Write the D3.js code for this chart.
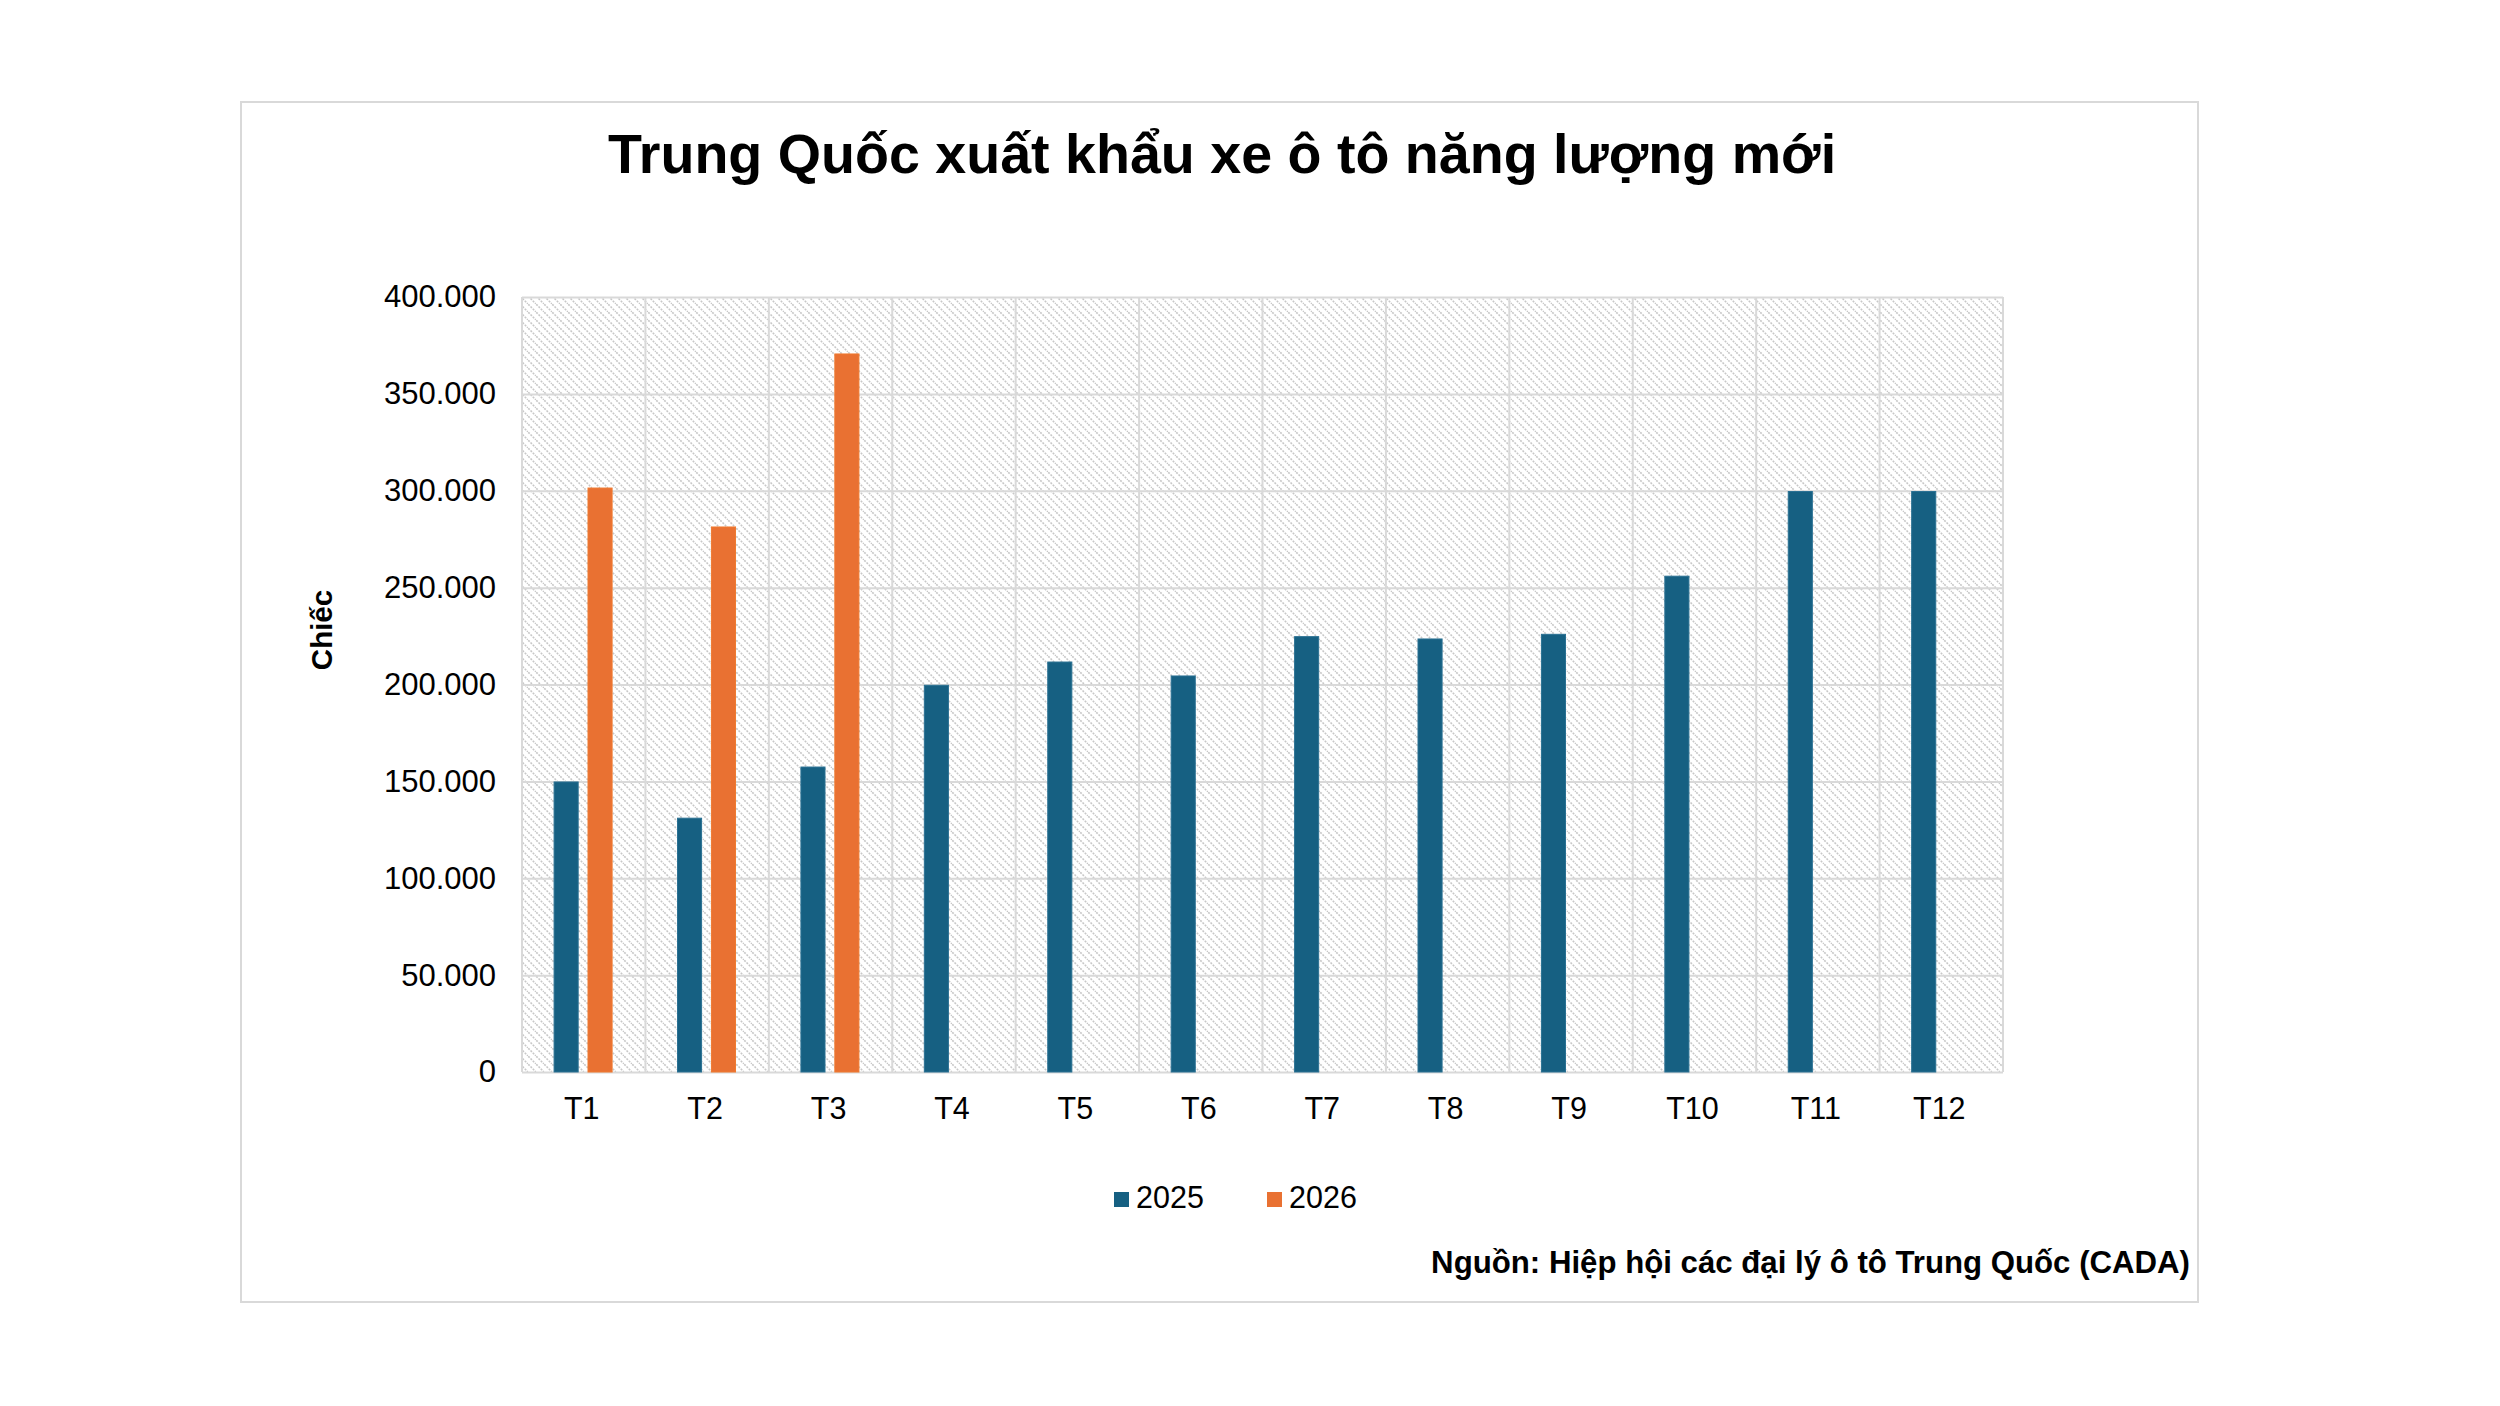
<!DOCTYPE html>
<html lang="vi">
<head>
<meta charset="utf-8">
<title>Trung Quốc xuất khẩu xe ô tô năng lượng mới</title>
<script src="https://cdn.jsdelivr.net/npm/d3@7"></script>
<style>
  html, body { margin: 0; padding: 0; background: #ffffff; }
  svg { display: block; font-family: "Liberation Sans", Arial, sans-serif; }
</style>
</head>
<body>
<div id="chart"></div>
<script>
// data
const months = ["T1", "T2", "T3", "T4", "T5", "T6", "T7", "T8", "T9", "T10", "T11", "T12"];
const seriesNames = ["2025", "2026"];
const values2025 = [149700, 131000, 157400, 199600, 211600, 204400, 224700, 223500, 225900, 255900, 299600, 299600];
const values2026 = [301400, 281300, 370600];
const yTicks = [0, 50000, 100000, 150000, 200000, 250000, 300000, 350000, 400000];
const colors = { "2025": "#166082", "2026": "#e97132" };

const W = 2500, H = 1406;
const plot = { left: 522, right: 2003, top: 297, bottom: 1072 };

const vn = d3.formatLocale({ decimal: ",", thousands: ".", grouping: [3], currency: ["", ""] });
const fmt = vn.format(",");

const svg = d3.select("#chart").append("svg")
    .attr("width", W)
    .attr("height", H);

// hatch pattern for plot background
const defs = svg.append("defs");
const pat = defs.append("pattern")
    .attr("id", "hatch")
    .attr("patternUnits", "userSpaceOnUse")
    .attr("width", 8)
    .attr("height", 8);
pat.append("rect").attr("width", 8).attr("height", 8).attr("fill", "#ffffff");
pat.append("path")
    .attr("d", "M-2,-2 L10,10 M-2,6 L2,10 M6,-2 L10,2")
    .attr("stroke", "#c8c8c8")
    .attr("stroke-width", 1.6)
    .attr("stroke-dasharray", "2,1.2");

// outer frame
svg.append("rect")
    .attr("x", 241).attr("y", 102)
    .attr("width", 2198 - 241).attr("height", 1302 - 102)
    .attr("fill", "none")
    .attr("stroke", "#d9d9d9")
    .attr("stroke-width", 2);

// title
svg.append("text")
    .attr("x", 1222)
    .attr("y", 173)
    .attr("text-anchor", "middle")
    .attr("font-weight", "bold")
    .attr("font-size", 55.6)
    .attr("fill", "#000")
    .text("Trung Quốc xuất khẩu xe ô tô năng lượng mới");

const x0 = d3.scaleBand()
    .domain(months)
    .range([plot.left, plot.right])
    .paddingInner(0)
    .paddingOuter(0);

const x1 = d3.scaleBand()
    .domain(seriesNames)
    .range([x0.bandwidth() * 0.26, x0.bandwidth() * 0.73])
    .paddingInner(0.29);

const y = d3.scaleLinear()
    .domain([0, 400000])
    .range([plot.bottom, plot.top]);

// plot background
svg.append("rect")
    .attr("x", plot.left).attr("y", plot.top)
    .attr("width", plot.right - plot.left)
    .attr("height", plot.bottom - plot.top)
    .attr("fill", "url(#hatch)");

// horizontal gridlines
svg.append("g")
    .attr("transform", `translate(${plot.left},0)`)
    .call(d3.axisLeft(y).tickValues(yTicks).tickSize(-(plot.right - plot.left)).tickFormat(""))
    .call(g => g.select(".domain").remove())
    .call(g => g.selectAll(".tick line").attr("stroke", "#d9d9d9").attr("stroke-width", 2));

// vertical gridlines at category boundaries
const bounds = months.map(m => x0(m)).concat([plot.right]);
svg.append("g")
    .selectAll("line")
    .data(bounds)
    .join("line")
    .attr("x1", d => d).attr("x2", d => d)
    .attr("y1", plot.top).attr("y2", plot.bottom)
    .attr("stroke", "#d9d9d9")
    .attr("stroke-width", 2);

// bars
const rows = months.map((m, i) => ({
    month: m,
    vals: [
        { key: "2025", v: values2025[i] },
        { key: "2026", v: values2026[i] }
    ].filter(d => d.v != null)
}));

svg.append("g")
    .selectAll("g")
    .data(rows)
    .join("g")
    .attr("transform", d => `translate(${x0(d.month)},0)`)
    .selectAll("rect")
    .data(d => d.vals)
    .join("rect")
    .attr("x", d => x1(d.key))
    .attr("width", x1.bandwidth())
    .attr("y", d => y(d.v))
    .attr("height", d => y(0) - y(d.v))
    .attr("fill", d => colors[d.key])
    .attr("stroke", d => d.key === "2025" ? "#2a7193" : "#f07a30")
    .attr("stroke-width", 1);

// y axis labels
svg.append("g")
    .attr("transform", `translate(${plot.left - 26},0)`)
    .call(d3.axisLeft(y).tickValues(yTicks).tickSize(0).tickFormat(fmt))
    .call(g => g.select(".domain").remove())
    .call(g => g.selectAll("text")
        .attr("x", 0)
        .attr("font-size", 31)
        .attr("font-family", "Liberation Sans, Arial, sans-serif")
        .attr("fill", "#000"));

// x axis labels
svg.append("g")
    .attr("transform", `translate(-2,${plot.bottom})`)
    .call(d3.axisBottom(x0).tickSize(0))
    .call(g => g.select(".domain").remove())
    .call(g => g.selectAll("text")
        .attr("y", 47)
        .attr("dy", 0)
        .attr("font-size", 30.5)
        .attr("font-family", "Liberation Sans, Arial, sans-serif")
        .attr("fill", "#000"));

// y axis title
svg.append("text")
    .attr("transform", "translate(332,630) rotate(-90)")
    .attr("text-anchor", "middle")
    .attr("font-weight", "bold")
    .attr("font-size", 29.5)
    .attr("fill", "#000")
    .text("Chiếc");

// legend
const legendX = [1114, 1267];
const legend = svg.append("g")
    .selectAll("g")
    .data(seriesNames)
    .join("g")
    .attr("transform", (d, i) => `translate(${legendX[i]},1192)`);
legend.append("rect")
    .attr("width", 15).attr("height", 15)
    .attr("fill", d => colors[d]);
legend.append("text")
    .attr("x", 22)
    .attr("y", 16)
    .attr("font-size", 30.5)
    .attr("fill", "#000")
    .text(d => d);

// source
svg.append("text")
    .attr("x", 2190)
    .attr("y", 1273)
    .attr("text-anchor", "end")
    .attr("font-weight", "bold")
    .attr("font-size", 31.2)
    .attr("fill", "#000")
    .text("Nguồn: Hiệp hội các đại lý ô tô Trung Quốc (CADA)");
</script>
</body>
</html>
